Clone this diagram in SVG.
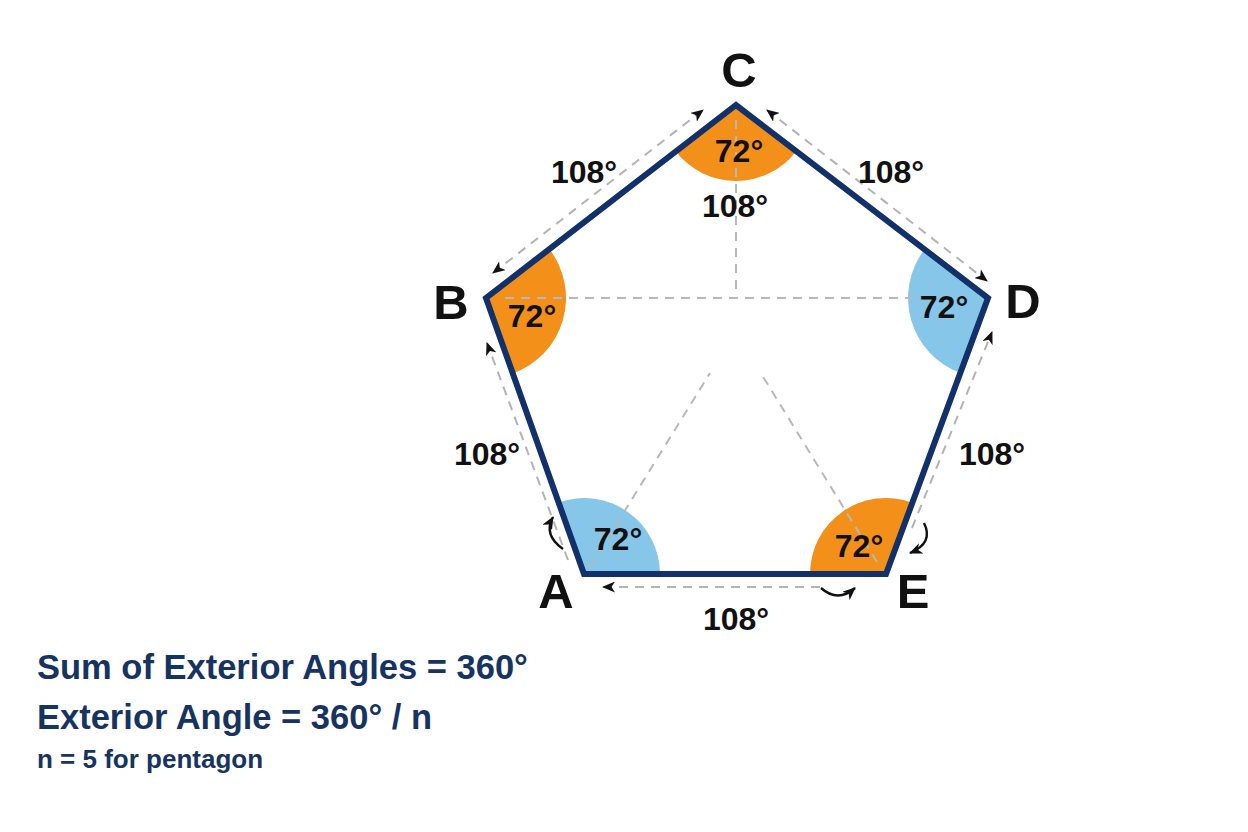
<svg xmlns="http://www.w3.org/2000/svg" width="1248" height="832" viewBox="0 0 1248 832">
<defs>
<style>
.orange{fill:#F3901A}
.blue{fill:#86C6E8}
.guide{stroke:#B8B8B8;stroke-width:2;stroke-dasharray:9 7;fill:none}
.outer{stroke:#B3B3B3;stroke-width:2;stroke-dasharray:9 7;fill:none}
.curve{stroke:#111;stroke-width:2.4;fill:none}
.edge{fill:none;stroke:#12306A;stroke-width:6;stroke-linejoin:miter}
.ang{font-family:"Liberation Sans",Arial,sans-serif;font-weight:bold;font-size:32px;fill:#111;text-anchor:middle}
.vtx{font-family:"Liberation Sans",Arial,sans-serif;font-weight:bold;font-size:49px;fill:#111;text-anchor:middle}
.note{font-family:"Liberation Sans",Arial,sans-serif;font-weight:bold;fill:#17335F}
</style>
<marker id="ah" viewBox="0 0 13 11" refX="12" refY="5.5" markerWidth="13" markerHeight="11" markerUnits="userSpaceOnUse" orient="auto-start-reverse">
<path d="M0,0 L13,5.5 L0,11 L3.5,5.5 Z" fill="#111"/>
</marker>
</defs>
<rect width="1248" height="832" fill="#FFFFFF"/>

<g id="sectors">
<path class="orange" d="M736,105 L796.3,151.2 A76,76 0 0 1 675.8,151.4 Z"/>
<path class="orange" d="M486,298 L549.3,249.1 A80,80 0 0 1 512.8,373.4 Z"/>
<path class="blue" d="M988,298 L960.3,373 A80,80 0 0 1 924.5,249.4 Z"/>
<path class="blue" d="M584,574 L558.6,502.4 A76,76 0 0 1 660,574 Z"/>
<path class="orange" d="M886,574 L810,574 A76,76 0 0 1 912.3,502.7 Z"/>
</g>

<g id="guides">
<path class="guide" d="M736,120 L736,292"/>
<path class="guide" d="M505,298 L915,298"/>
<path class="guide" d="M590,567 L710,373"/>
<path class="guide" d="M877,562 L762,375"/>
</g>

<g id="pentagon">
<polygon class="edge" points="584,574 486,298 736,105 988,298 886,574"/>
</g>

<g id="connectors">
<path class="outer" d="M493,273 L703,110" marker-start="url(#ah)" marker-end="url(#ah)"/>
<path class="outer" d="M767,110 L987,281" marker-start="url(#ah)" marker-end="url(#ah)"/>
<path class="outer" d="M912,528 L992,332" marker-end="url(#ah)"/>
<path class="outer" d="M568,560 L487,343" marker-end="url(#ah)"/>
<path class="outer" d="M820,587 L603,587" marker-end="url(#ah)"/>
<path class="curve" d="M563,549 Q543,535 553,517" marker-end="url(#ah)"/>
<path class="curve" d="M924,523 Q934,543 910,553" marker-end="url(#ah)"/>
<path class="curve" d="M821,588 Q838,603 855,588" marker-end="url(#ah)"/>
</g>

<g id="vertex-C"><text class="vtx" x="739" y="87">C</text><text class="ang" x="739" y="162">72°</text></g>
<g id="vertex-B"><text class="vtx" x="451" y="319">B</text><text class="ang" x="532" y="327">72°</text></g>
<g id="vertex-D"><text class="vtx" x="1023" y="318">D</text><text class="ang" x="944" y="318">72°</text></g>
<g id="vertex-A"><text class="vtx" x="556" y="608">A</text><text class="ang" x="618" y="550">72°</text></g>
<g id="vertex-E"><text class="vtx" x="913" y="608">E</text><text class="ang" x="859" y="557">72°</text></g>

<g id="exterior-labels">
<text class="ang" x="584" y="183">108°</text>
<text class="ang" x="735" y="217">108°</text>
<text class="ang" x="891" y="183">108°</text>
<text class="ang" x="487" y="465">108°</text>
<text class="ang" x="992" y="465">108°</text>
<text class="ang" x="736" y="630">108°</text>
</g>

<g id="notes">
<text class="note" x="37" y="679" font-size="34.5">Sum of Exterior Angles = 360°</text>
<text class="note" x="37" y="729" font-size="34.5">Exterior Angle = 360° / n</text>
<text class="note" x="37" y="768" font-size="26">n = 5 for pentagon</text>
</g>
</svg>
